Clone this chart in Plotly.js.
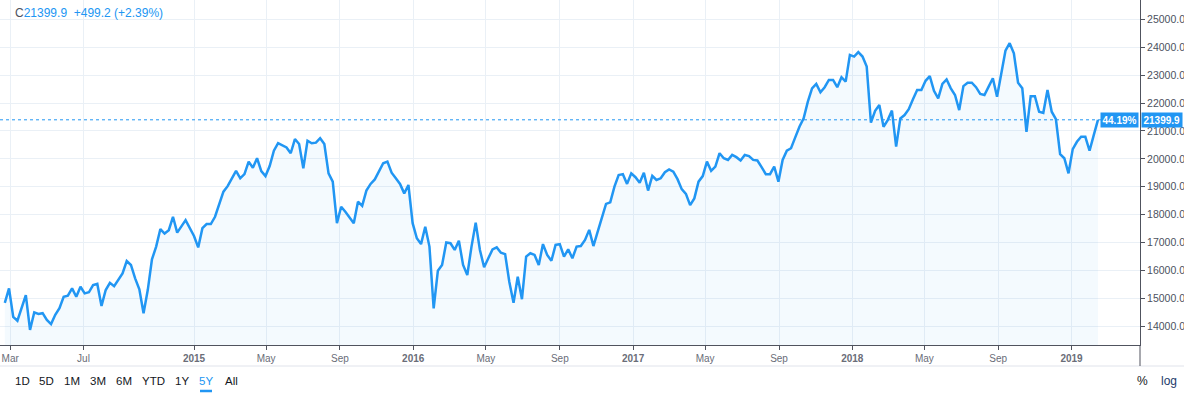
<!DOCTYPE html>
<html>
<head>
<meta charset="utf-8">
<script src="https://cdn.plot.ly/plotly-3.0.1.min.js"></script>
<style>
  html, body { margin: 0; padding: 0; background: #ffffff; }
  #chart { width: 1184px; height: 396px; }
</style>
</head>
<body>
<div id="chart"></div>
<script>
// Weekly closes, first week starting 2014-02-20 (null = week not read, line connects across it)
const startWeek = '2014-02-20';
const closes2014 = [14830, 15350, 14330, 14190, null, 15110, 13860, 14490, 14430, 14460,
  14220, 14070, 14400, 14640, 15050, 15090, 15350, 15050, 15410, 15170,
  15210, 15470, 15510, 14720, 15290, 15550, 15430, null, 15890, 16330,
  16190, 15710, 15320, 14460, 15290, 16390, 16850, 17480, 17320, 17440,
  17920, 17350, null, 17800, null];
const closes2015 = [17230, 16820, 17510, 17660, 17660, 17920, 18410, 18820, 19020, null,
  19570, 19300, 19450, 19900, 19680, 20020, 19560, 19380, 19740, 20290,
  20560, null, 20410, 20200, 20710, 20530, 19660, 20650, 20560, 20580,
  20740, 20530, 19480, 19180, 17690, 18280, 18100, 17900, 17690, 18460,
  18310, 18860, 19100, 19260, 19540, 19840, 19900, 19500, 19300, 19100,
  18760, 19060, 17690];
const closes2016 = [17150, 16940, 17560, 16850, 14630, 15980, 16190, 17000, 16970, 16730,
  17060, 16190, 15830, 16850, 17710, 16730, 16110, 16430, 16750, 16820,
  16630, 16580, 15580, 14830, 15770, 14960, 16490, 16610, 16550, 16190,
  16940, 16550, 16340, 16910, 16940, 16490, 16750, 16430, 16850, 16870,
  17090, 17450, 16870, 17380, 17900, 18380, 18440, 19000, 19420, 19450,
  19100, 19480];
const closes2017 = [19340, 19140, 19500, 18860, 19390, 19240, 19300, 19520, 19620, 19540,
  19270, 18910, 18740, 18340, 18580, 19180, 19380, 19900, 19570, 19720,
  20200, 20020, 19960, 20140, 20060, 19940, 20140, 20100, 19960, 19940,
  19700, 19450, 19450, 19720, 19180, 19960, 20290, 20380, 20770, 21150,
  21450, 22050, 22530, 22690, 22390, 22570, 22830, 22830, 22570, 22930,
  22770, 23730];
const closes2018 = [23670, 23830, 23670, 23310, 21300, 21720, 21930, 21150, 21390, 21730,
  20440, 21450, 21570, 21780, 22140, 22470, 22470, 22800, 22970, 22440,
  22170, 22690, 22850, 22530, 22290, 21750, 22610, 22730, 22730, 22570,
  22330, 22290, 22590, 22890, 22230, 23070, 23880, 24150, 23790, 22730,
  22530, 20970, 22250, 22250, 21690, 21650, 22470, 21690, 21420, 20170,
  20020, 19480];
const closes2019 = [20350, 20610, 20790, 20790, 20290, 20850, 21399.9];

const lastClose = 21399.9;
const legendText = ['C', '21399.9', '+499.2', '(+2.39%)'];
const pctLabel = '44.19%';
const xTickVals = ['2014-03-01', '2014-07-01', '2015-01-01', '2015-05-01', '2015-09-01',
  '2016-01-01', '2016-05-01', '2016-09-01', '2017-01-01', '2017-05-01', '2017-09-01',
  '2018-01-01', '2018-05-01', '2018-09-01', '2019-01-01'];
const xTickText = ['Mar', 'Jul', '<b>2015</b>', 'May', 'Sep', '<b>2016</b>', 'May', 'Sep',
  '<b>2017</b>', 'May', 'Sep', '<b>2018</b>', 'May', 'Sep', '<b>2019</b>'];
const rangeButtons = ['1D', '5D', '1M', '3M', '6M', 'YTD', '1Y', '5Y', 'All'];
const activeButton = '5Y';

const closes = [].concat(closes2014, closes2015, closes2016, closes2017, closes2018, closes2019);
const t0 = Date.parse(startWeek + 'T00:00:00Z');
const dates = closes.map((_, i) => new Date(t0 + i * 7 * 86400000).toISOString().slice(0, 10));

const FONT = 'Liberation Sans, Arial, sans-serif';
const BLUE = '#2196f3';
const W = 1184, H = 396, ML = 0, MR = 44, MT = 0, MB = 51;
const PW = W - ML - MR, PH = H - MT - MB;
const px = v => (v - ML) / PW;          // pixel x -> paper
const py = v => (H - MB - v) / PH;      // pixel y -> paper

const trace = {
  type: 'scatter', mode: 'lines', x: dates, y: closes,
  connectgaps: true,
  line: { color: BLUE, width: 2.5 },
  fill: 'tozeroy', fillcolor: 'rgba(33,150,243,0.05)',
  hoverinfo: 'skip'
};

const buttonX = [22, 46, 72, 98, 124, 153, 182, 206, 231];
const annotations = [];
annotations.push({
  xref: 'paper', yref: 'paper', x: px(13), y: py(13), xanchor: 'left', yanchor: 'middle',
  showarrow: false, font: { family: FONT, size: 12, color: BLUE },
  text: '<span style="color:#4c525e">' + legendText[0] + '</span>' + legendText[1] +
        '\u00a0\u00a0' + legendText[2] + ' ' + legendText[3]
});
rangeButtons.forEach((b, i) => {
  annotations.push({
    xref: 'paper', yref: 'paper', x: px(buttonX[i]), y: py(381), xanchor: 'center', yanchor: 'middle',
    showarrow: false, text: b,
    font: { family: FONT, size: 11.5, color: b === activeButton ? BLUE : '#131722' }
  });
});
annotations.push({ xref: 'paper', yref: 'paper', x: px(1143), y: py(381), xanchor: 'center', yanchor: 'middle',
  showarrow: false, text: '%', font: { family: FONT, size: 12, color: '#131722' } });
annotations.push({ xref: 'paper', yref: 'paper', x: px(1169), y: py(381), xanchor: 'center', yanchor: 'middle',
  showarrow: false, text: 'log', font: { family: FONT, size: 12, color: '#1c3a6b' } });
annotations.push({ xref: 'paper', yref: 'y', x: 1, y: lastClose, xanchor: 'right', yanchor: 'middle', xshift: -1,
  showarrow: false, text: '<b>' + pctLabel + '</b>', bgcolor: BLUE, borderpad: 1.5,
  font: { family: FONT, size: 10, color: '#ffffff' } });
annotations.push({ xref: 'paper', yref: 'y', x: 1, y: lastClose, xanchor: 'left', yanchor: 'middle', xshift: 1,
  showarrow: false, text: '<b>' + lastClose.toFixed(1) + '</b>', bgcolor: BLUE, borderpad: 1.5,
  font: { family: FONT, size: 10, color: '#ffffff' } });

const shapes = [
  { type: 'line', xref: 'paper', yref: 'y', x0: 0, x1: 1, y0: lastClose, y1: lastClose,
    line: { color: BLUE, width: 1, dash: 'dot' } },
  { type: 'line', xref: 'paper', yref: 'paper', x0: 0, x1: px(W), y0: py(366), y1: py(366),
    line: { color: '#e0e3eb', width: 1 } },
  { type: 'line', xref: 'paper', yref: 'paper', x0: 1, x1: 1, y0: 0, y1: py(366),
    line: { color: '#50535e', width: 1 } },
  { type: 'line', xref: 'paper', yref: 'paper', x0: px(200), x1: px(212), y0: py(391), y1: py(391),
    line: { color: BLUE, width: 2.5 } }
];

const layout = {
  width: W, height: H,
  margin: { l: ML, r: MR, t: MT, b: MB, pad: 0 },
  paper_bgcolor: '#ffffff', plot_bgcolor: '#ffffff',
  showlegend: false,
  font: { family: FONT },
  xaxis: {
    type: 'date', range: ['2014-02-12', '2019-04-25'],
    tickmode: 'array', tickvals: xTickVals, ticktext: xTickText,
    showgrid: true, gridcolor: '#eaf0f6', gridwidth: 1,
    showline: true, linecolor: '#50535e', linewidth: 1,
    ticks: 'outside', ticklen: 4, tickcolor: '#50535e',
    tickfont: { family: FONT, size: 10, color: '#6a6d78' },
    zeroline: false, fixedrange: true
  },
  yaxis: {
    side: 'right', range: [13318, 25700],
    tickmode: 'linear', tick0: 0, dtick: 1000, tickformat: '.1f',
    showgrid: true, gridcolor: '#eaf0f6', gridwidth: 1,
    showline: true, linecolor: '#50535e', linewidth: 1,
    ticks: 'outside', ticklen: 4, tickcolor: '#50535e',
    tickfont: { family: FONT, size: 10.5, color: '#4c525e' },
    zeroline: false, fixedrange: true
  },
  shapes: shapes,
  annotations: annotations
};

Plotly.newPlot('chart', [trace], layout, { displayModeBar: false, staticPlot: true });
</script>
</body>
</html>
